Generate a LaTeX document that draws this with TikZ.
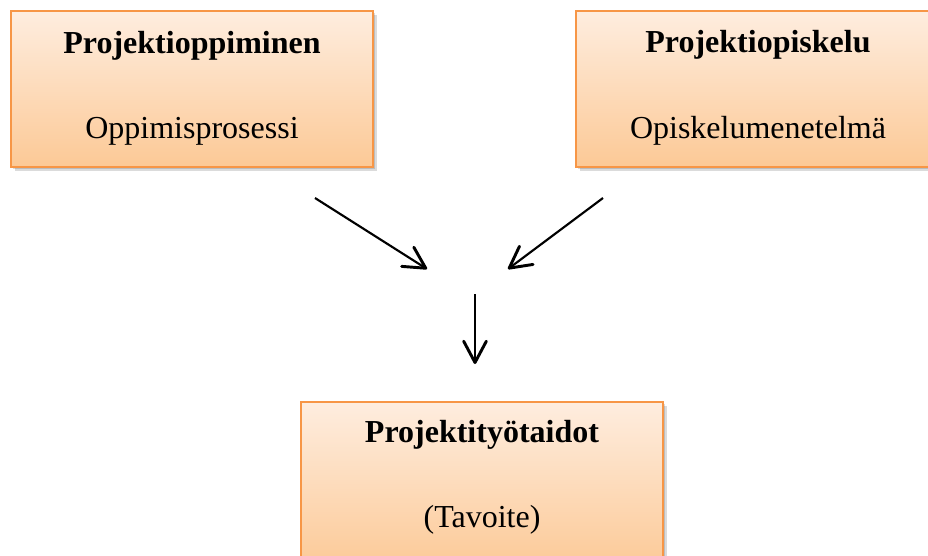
\documentclass[tikz,border=0pt]{standalone}
\usepackage{fontspec}
\setmainfont{Liberation Serif}
\usetikzlibrary{arrows.meta}

\definecolor{boxline}{RGB}{247,150,70}
\definecolor{boxtop}{RGB}{254,237,223}
\definecolor{boxbottom}{RGB}{252,201,150}

\begin{document}
\begin{tikzpicture}[x=0.375pt,y=-0.375pt,
  box/.style={draw=boxline,line width=0.75pt,top color=boxtop,bottom color=boxbottom},
  boxshadow/.style={fill=black,opacity=0.14},
  txt/.style={anchor=base,inner sep=0pt,font=\fontsize{12pt}{14pt}\selectfont},
  title/.style={txt,font=\fontsize{12pt}{14pt}\selectfont\bfseries},
  arr/.style={line width=0.8pt,-{Straight Barb[length=8pt,width=8.5pt,line width=1.1pt,round]}}]
\useasboundingbox (0,0) rectangle (928,555);
\clip (0,0) rectangle (928,555);

% shadows
\foreach \d in {2,4}{
 \fill[boxshadow] (11+\d,11+\d) rectangle (373+\d,167+\d);
 \fill[boxshadow] (576+\d,11+\d) rectangle (940+\d,167+\d);
 \fill[boxshadow] (301+\d,402+\d) rectangle (663+\d,570+\d);
}

% boxes
\draw[box] (11,11) rectangle (373,167);
\draw[box] (576,11) rectangle (940,167);
\draw[box] (301,402) rectangle (663,570);

 \node[title] at (192,53)  (oppiminen) {Projektioppiminen};
 \node[txt]   at (192,138) (prosessi) {Oppimisprosessi};
 \node[title] at (758,52)  (opiskelu) {Projektiopiskelu};
 \node[txt]   at (758,138) (menetelma) {Opiskelumenetelmä};
 \node[title] at (482,442) (taidot) {Projektityötaidot};
 \node[txt]   at (482,527) (tavoite) {(Tavoite)};

% arrows
\coordinate (l1) at (315,198);
\coordinate (l2) at (427,269);
\coordinate (r1) at (603,198);
\coordinate (r2) at (508,269);
\coordinate (d1) at (475,294);
\coordinate (d2) at (475,364);
\draw[arr] (l1)--(l2);
\draw[arr] (r1)--(r2);
\draw[arr] (d1)--(d2);
\end{tikzpicture}
\end{document}
